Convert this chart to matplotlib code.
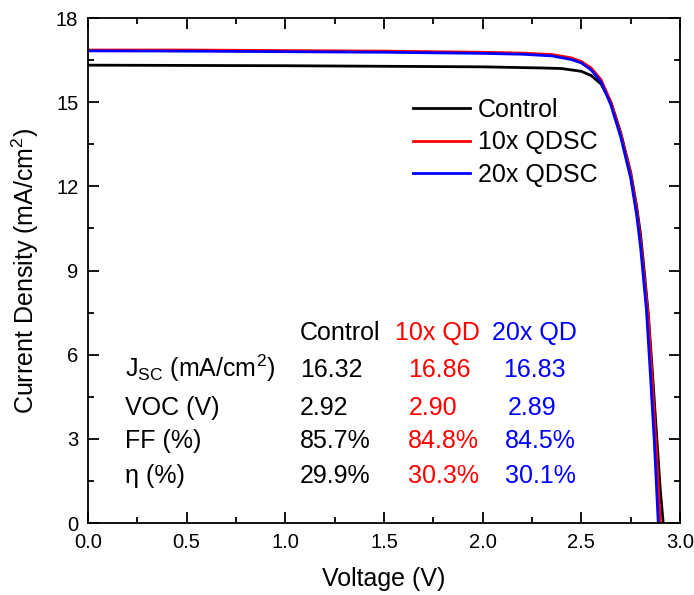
import matplotlib
matplotlib.use("Agg")
import matplotlib.pyplot as plt
from matplotlib.ticker import MultipleLocator

plt.rcParams['font.family'] = ['Liberation Sans', 'DejaVu Sans']
plt.rcParams['mathtext.default'] = 'regular'

# J-V curves (voltage in V, current density in mA/cm2)
v_control = [0.0, 0.5, 1.0, 1.5, 2.0, 2.3, 2.4, 2.5, 2.55, 2.6, 2.65, 2.7,
             2.75, 2.78, 2.8, 2.82, 2.84, 2.86, 2.88, 2.9, 2.915]
j_control = [16.32, 16.31, 16.30, 16.28, 16.26, 16.22, 16.20, 16.10, 15.95, 15.65, 15.0, 13.9,
             12.5, 11.3, 10.3, 8.9, 7.4, 5.4, 3.3, 1.2, 0.0]

v_10x = [0.0, 0.5, 1.0, 1.5, 2.0, 2.2, 2.35, 2.45, 2.5, 2.55, 2.6, 2.65, 2.7,
         2.75, 2.78, 2.8, 2.82, 2.84, 2.86, 2.88, 2.9]
j_10x = [16.86, 16.86, 16.84, 16.82, 16.78, 16.75, 16.70, 16.58, 16.45, 16.22, 15.8, 15.0, 13.85,
         12.45, 11.2, 10.1, 8.7, 7.3, 5.0, 2.6, 0.0]

v_20x = [0.0, 0.5, 1.0, 1.5, 2.0, 2.2, 2.35, 2.45, 2.5, 2.55, 2.6, 2.65, 2.7,
         2.75, 2.78, 2.8, 2.81, 2.83, 2.85, 2.87, 2.89]
j_20x = [16.83, 16.82, 16.80, 16.78, 16.74, 16.71, 16.65, 16.52, 16.40, 16.15, 15.72, 14.9, 13.75,
         12.3, 11.0, 9.85, 9.1, 7.6, 5.3, 2.9, 0.0]

# parameter table
row_labels = ['J$_{SC}$ (mA/cm$^{2}$)', 'VOC (V)', 'FF (%)', 'η (%)']
col_labels = ['Control', '10x QD', '20x QD']
col_colors = ['black', 'red', 'blue']
vals_control = ['16.32', '2.92', '85.7%', '29.9%']
vals_10x = ['16.86', '2.90', '84.8%', '30.3%']
vals_20x = ['16.83', '2.89', '84.5%', '30.1%']

fig = plt.figure(figsize=(6.94, 5.95), dpi=100)
ax = fig.add_axes([0.1268, 0.121, 0.853, 0.8487])

ax.plot(v_control, j_control, color='black', lw=2, label='Control')
ax.plot(v_10x, j_10x, color='red', lw=2, label='10x QDSC')
ax.plot(v_20x, j_20x, color='blue', lw=2, label='20x QDSC')

ax.set_xlim(0, 3.0)
ax.set_ylim(0, 18)
ax.xaxis.set_major_locator(MultipleLocator(0.5))
ax.xaxis.set_minor_locator(MultipleLocator(0.25))
ax.yaxis.set_major_locator(MultipleLocator(3))
ax.yaxis.set_minor_locator(MultipleLocator(1.5))
ax.xaxis.set_major_formatter(matplotlib.ticker.FormatStrFormatter('%.1f'))
ax.tick_params(which='both', direction='in', top=True, right=True, width=1.3, labelsize=14.5)
ax.tick_params(which='major', length=8)
ax.tick_params(which='minor', length=4.5)
ax.tick_params(axis='x', pad=7)
ax.tick_params(axis='y', pad=7)
for s in ax.spines.values():
    s.set_linewidth(1.3)

ax.set_xlabel('Voltage (V)', fontsize=18, labelpad=11)
ax.set_ylabel('Current Density (mA/cm$^{2}$)', fontsize=18, labelpad=11)

ax.legend(loc='upper left', bbox_to_anchor=(0.549, 0.842), frameon=False, fontsize=18,
          handlelength=2.28, handletextpad=0.32, labelspacing=0.34, borderpad=0, borderaxespad=0)

# table text (axes coords, baseline aligned)
row_y = [0.289, 0.214, 0.149, 0.079]
header_y = 0.362
col_x = [0.358, 0.519, 0.682]
val_x = [[0.358, 0.358, 0.358, 0.358],
         [0.541, 0.541, 0.541, 0.541],
         [0.701, 0.709, 0.704, 0.704]]
for x, lab, c in zip(col_x, col_labels, col_colors):
    ax.text(x, header_y, lab, color=c, fontsize=18, transform=ax.transAxes, va='baseline')
for y, lab in zip(row_y, row_labels):
    ax.text(0.0625, y, lab, fontsize=18, transform=ax.transAxes, va='baseline')
for xs, vals, c in zip(val_x, [vals_control, vals_10x, vals_20x], col_colors):
    for x, y, v in zip(xs, row_y, vals):
        ax.text(x, y, v, color=c, fontsize=18, transform=ax.transAxes, va='baseline')

fig.savefig('out.png', dpi=100)
